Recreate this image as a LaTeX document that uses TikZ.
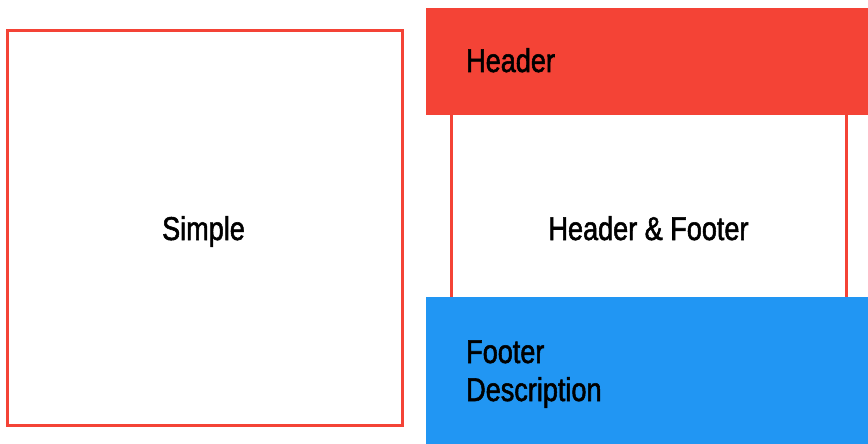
\documentclass[tikz,border=0pt]{standalone}
\usepackage{fontspec}
\setmainfont[FakeStretch=0.82, FakeBold=1.6]{Liberation Sans}
\definecolor{mdred}{HTML}{F44336}
\definecolor{mdblue}{HTML}{2196F3}
\tikzset{
  outlinebox/.style={draw=mdred, line width=3pt},
  fillred/.style={fill=mdred, draw=none},
  fillblue/.style={fill=mdblue, draw=none},
  lbl/.style={font=\fontsize{33}{38}\selectfont, text=black, inner sep=0pt}
}
\begin{document}
\begin{tikzpicture}[x=1pt, y=-1pt]
  \useasboundingbox (0,0) rectangle (868,444);
  % left simple box
  \draw[outlinebox] (7.5,30.5) rectangle (402,425.5);
  \node[lbl, anchor=base] (simple) at (203.5,240) {Simple};
  % right column
  \draw[outlinebox] (451,100) rectangle (846.5,310);
  \fill[fillred] (426,8) rectangle (868,114.5);
  \fill[fillblue] (426,297) rectangle (868,444);
  \node[lbl, anchor=base west] (header) at (466,72) {Header};
  \node[lbl, anchor=base] (middle) at (648.5,240) {Header \& Footer};
  \node[lbl, anchor=base west, align=left] (footer) at (466,401) {Footer\\Description};
\end{tikzpicture}
\end{document}
